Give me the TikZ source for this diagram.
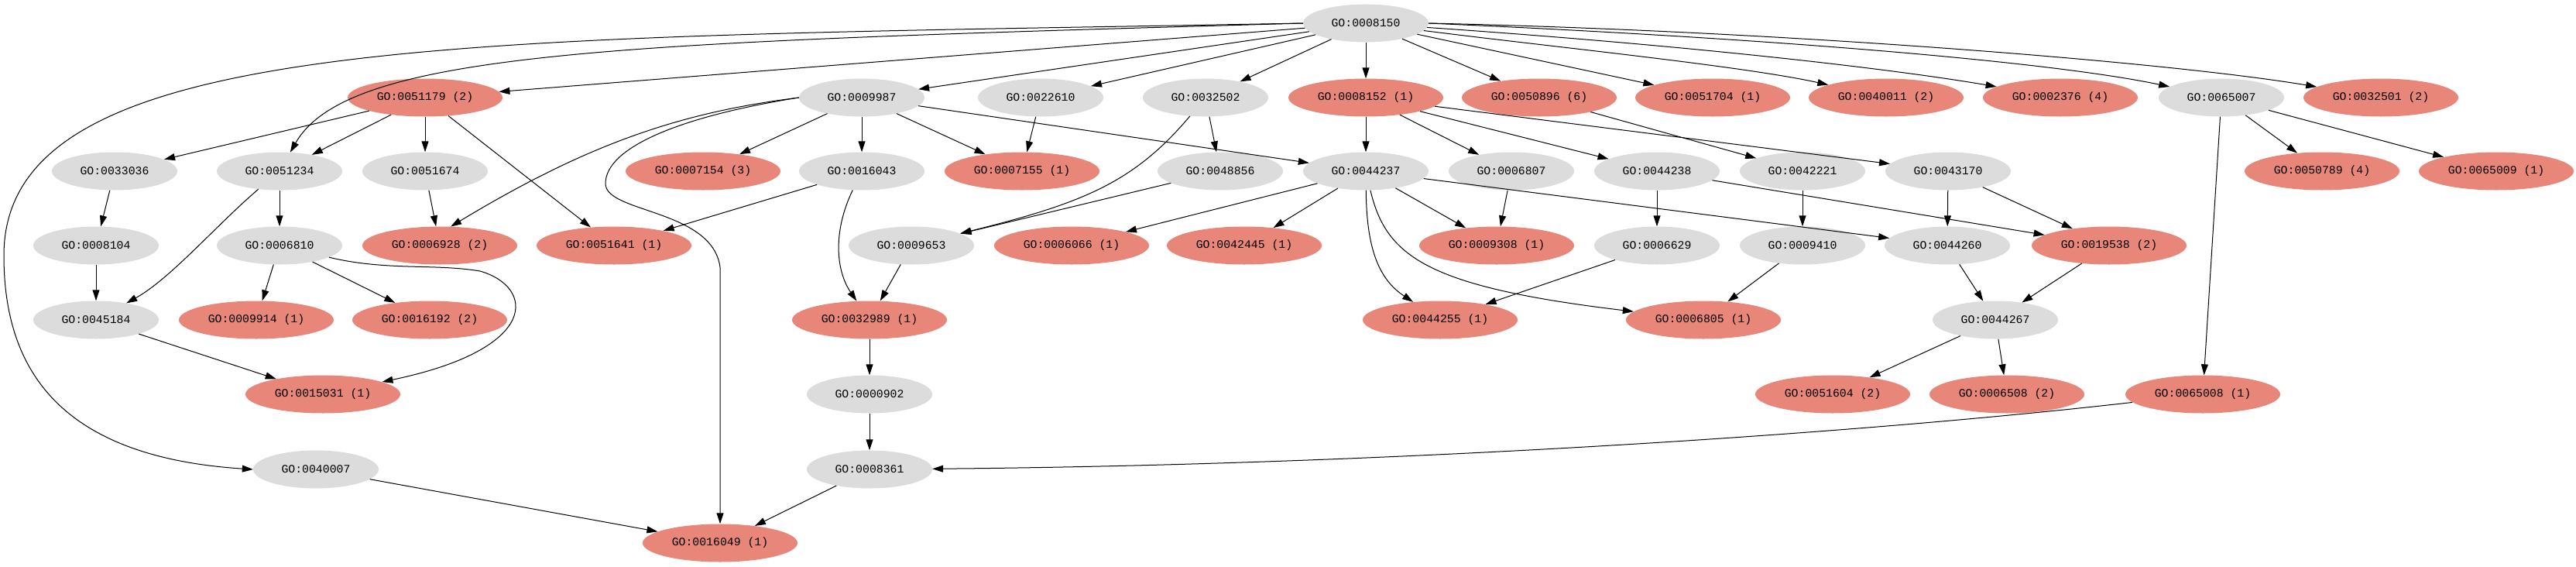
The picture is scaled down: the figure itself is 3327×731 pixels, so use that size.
\documentclass[tikz,border=0pt]{standalone}
\usepackage{fontspec}
\setmonofont{Liberation Mono}
\usetikzlibrary{shapes.geometric,arrows.meta}
\definecolor{gofill}{HTML}{DCDCDC}
\definecolor{hitfill}{HTML}{E8867A}
\begin{document}
\begin{tikzpicture}[x=1pt,y=-1pt,
  base/.style={ellipse,inner sep=0pt,minimum height=49pt,font=\ttfamily\fontsize{14.8}{16}\selectfont},
  gnode/.style={base,fill=gofill,minimum width=162pt},
  rnode/.style={base,fill=hitfill,minimum width=200pt},
  conn/.style={draw=black,line width=1pt,-{Triangle[length=14pt,width=9pt]}}]
\useasboundingbox (0,0) rectangle (3327,731);
% row 0
\node[gnode] (root) at (1764,30) {GO:0008150};
% row 1
\node[rnode] (n0051179) at (549,126) {GO:0051179 (2)};
\node[gnode] (n0009987) at (1113,126) {GO:0009987};
\node[gnode] (n0022610) at (1344,126) {GO:0022610};
\node[gnode] (n0032502) at (1557,126) {GO:0032502};
\node[rnode] (n0008152) at (1764,126) {GO:0008152 (1)};
\node[rnode] (n0050896) at (1988,126) {GO:0050896 (6)};
\node[rnode] (n0051704) at (2212,126) {GO:0051704 (1)};
\node[rnode] (n0040011) at (2436,126) {GO:0040011 (2)};
\node[rnode] (n0002376) at (2661,126) {GO:0002376 (4)};
\node[gnode] (n0065007) at (2869,126) {GO:0065007};
\node[rnode] (n0032501) at (3075,126) {GO:0032501 (2)};
% row 2
\node[gnode] (n0033036) at (148,221) {GO:0033036};
\node[gnode] (n0051234) at (361,221) {GO:0051234};
\node[gnode] (n0051674) at (549,221) {GO:0051674};
\node[rnode] (n0007154) at (908,221) {GO:0007154 (3)};
\node[gnode] (n0016043) at (1113,221) {GO:0016043};
\node[rnode] (n0007155) at (1320,221) {GO:0007155 (1)};
\node[gnode] (n0048856) at (1576,221) {GO:0048856};
\node[gnode] (n0044237) at (1764,221) {GO:0044237};
\node[gnode] (n0006807) at (1952,221) {GO:0006807};
\node[gnode] (n0044238) at (2140,221) {GO:0044238};
\node[gnode] (n0042221) at (2328,221) {GO:0042221};
\node[gnode] (n0043170) at (2516,221) {GO:0043170};
\node[rnode] (n0050789) at (2999,221) {GO:0050789 (4)};
\node[rnode] (n0065009) at (3224,221) {GO:0065009 (1)};
% row 3
\node[gnode] (n0008104) at (124,317) {GO:0008104};
\node[gnode] (n0006810) at (361,317) {GO:0006810};
\node[rnode] (n0006928) at (568,317) {GO:0006928 (2)};
\node[rnode] (n0051641) at (793,317) {GO:0051641 (1)};
\node[gnode] (n0009653) at (1177,317) {GO:0009653};
\node[rnode] (n0006066) at (1384,317) {GO:0006066 (1)};
\node[rnode] (n0042445) at (1607,317) {GO:0042445 (1)};
\node[rnode] (n0009308) at (1933,317) {GO:0009308 (1)};
\node[gnode] (n0006629) at (2140,317) {GO:0006629};
\node[gnode] (n0009410) at (2328,317) {GO:0009410};
\node[gnode] (n0044260) at (2515,317) {GO:0044260};
\node[rnode] (n0019538) at (2724,317) {GO:0019538 (2)};
% row 4
\node[gnode] (n0045184) at (124,413) {GO:0045184};
\node[rnode] (n0009914) at (331,413) {GO:0009914 (1)};
\node[rnode] (n0016192) at (555,413) {GO:0016192 (2)};
\node[rnode] (n0032989) at (1123,413) {GO:0032989 (1)};
\node[rnode] (n0044255) at (1860,413) {GO:0044255 (1)};
\node[rnode] (n0006805) at (2200,413) {GO:0006805 (1)};
\node[gnode] (n0044267) at (2577,413) {GO:0044267};
% row 5
\node[rnode] (n0015031) at (417,509) {GO:0015031 (1)};
\node[gnode] (n0000902) at (1123,509) {GO:0000902};
\node[rnode] (n0051604) at (2367,509) {GO:0051604 (2)};
\node[rnode] (n0006508) at (2592,509) {GO:0006508 (2)};
\node[rnode] (n0065008) at (2845,509) {GO:0065008 (1)};
% row 6
\node[gnode] (n0040007) at (408,606) {GO:0040007};
\node[gnode] (n0008361) at (1123,606) {GO:0008361};
% row 7
\node[rnode] (n0016049) at (930,701) {GO:0016049 (1)};

% ---- edges from root
\draw[conn] (root) -- (n0051179);
\draw[conn] (root.west) .. controls (800,55) and (450,65) .. (n0051234);
\draw[conn] (root.west) .. controls (600,50) and (5,40) .. (5,330) .. controls (5,480) and (80,590) .. (n0040007.west);
\draw[conn] (root) -- (n0009987);
\draw[conn] (root) -- (n0022610);
\draw[conn] (root) -- (n0032502);
\draw[conn] (root) -- (n0008152);
\draw[conn] (root) -- (n0050896);
\draw[conn] (root) -- (n0051704);
\draw[conn] (root) .. controls (2000,60) and (2250,85) .. (n0040011);
\draw[conn] (root) .. controls (2200,60) and (2450,90) .. (n0002376);
\draw[conn] (root.east) .. controls (2300,50) and (2650,80) .. (n0065007);
\draw[conn] (root.east) .. controls (2300,40) and (2800,80) .. (n0032501);
% ---- row 1 sources
\draw[conn] (n0051179) -- (n0033036);
\draw[conn] (n0051179) -- (n0051234);
\draw[conn] (n0051179) -- (n0051674);
\draw[conn] (n0051179) -- (n0051641);
\draw[conn] (n0009987.west) .. controls (880,145) and (760,185) .. (n0006928.60);
\draw[conn] (n0009987.west) .. controls (880,150) and (782,190) .. (782,237) .. controls (782,275) and (920,270) .. (930,345) -- (n0016049);
\draw[conn] (n0009987) -- (n0007154);
\draw[conn] (n0009987) -- (n0016043);
\draw[conn] (n0009987) -- (n0007155);
\draw[conn] (n0009987) -- (n0044237);
\draw[conn] (n0022610) -- (n0007155);
\draw[conn] (n0032502) -- (n0048856);
\draw[conn] (n0032502) .. controls (1465,235) and (1400,262) .. (n0009653);
\draw[conn] (n0008152) -- (n0044237);
\draw[conn] (n0008152) -- (n0006807);
\draw[conn] (n0008152) -- (n0044238);
\draw[conn] (n0008152) -- (n0043170);
\draw[conn] (n0050896) -- (n0042221);
\draw[conn] (n0065007) -- (n0050789);
\draw[conn] (n0065007) -- (n0065009);
\draw[conn] (n0065007) -- (n0065008);
% ---- row 2 sources
\draw[conn] (n0033036) -- (n0008104);
\draw[conn] (n0051234) -- (n0006810);
\draw[conn] (n0051234) .. controls (280,290) and (220,360) .. (n0045184);
\draw[conn] (n0051674) -- (n0006928);
\draw[conn] (n0016043) -- (n0051641);
\draw[conn] (n0016043) .. controls (1075,300) and (1080,350) .. (n0032989);
\draw[conn] (n0048856) -- (n0009653);
\draw[conn] (n0044237) -- (n0006066);
\draw[conn] (n0044237) -- (n0042445);
\draw[conn] (n0044237) -- (n0009308);
\draw[conn] (n0044237) .. controls (1765,320) and (1780,360) .. (n0044255);
\draw[conn] (n0044237) .. controls (1790,330) and (1840,370) .. (n0006805);
\draw[conn] (n0044237) -- (n0044260);
\draw[conn] (n0006807) -- (n0009308);
\draw[conn] (n0044238) -- (n0006629);
\draw[conn] (n0044238) -- (n0019538);
\draw[conn] (n0042221) -- (n0009410);
\draw[conn] (n0043170) -- (n0044260);
\draw[conn] (n0043170) -- (n0019538);
% ---- row 3 sources
\draw[conn] (n0008104) -- (n0045184);
\draw[conn] (n0006810) -- (n0009914);
\draw[conn] (n0006810) -- (n0016192);
\draw[conn] (n0006810) .. controls (500,350) and (560,340) .. (620,350) .. controls (690,370) and (700,450) .. (n0015031);
\draw[conn] (n0009653) -- (n0032989);
\draw[conn] (n0006629) -- (n0044255);
\draw[conn] (n0009410) -- (n0006805);
\draw[conn] (n0044260) -- (n0044267);
\draw[conn] (n0019538) -- (n0044267);
% ---- lower rows
\draw[conn] (n0045184) -- (n0015031);
\draw[conn] (n0032989) -- (n0000902);
\draw[conn] (n0044267) -- (n0051604);
\draw[conn] (n0044267) -- (n0006508);
\draw[conn] (n0065008) .. controls (2400,560) and (1800,600) .. (n0008361);
\draw[conn] (n0000902) -- (n0008361);
\draw[conn] (n0008361) -- (n0016049);
\draw[conn] (n0040007) -- (n0016049);
\end{tikzpicture}
\end{document}
